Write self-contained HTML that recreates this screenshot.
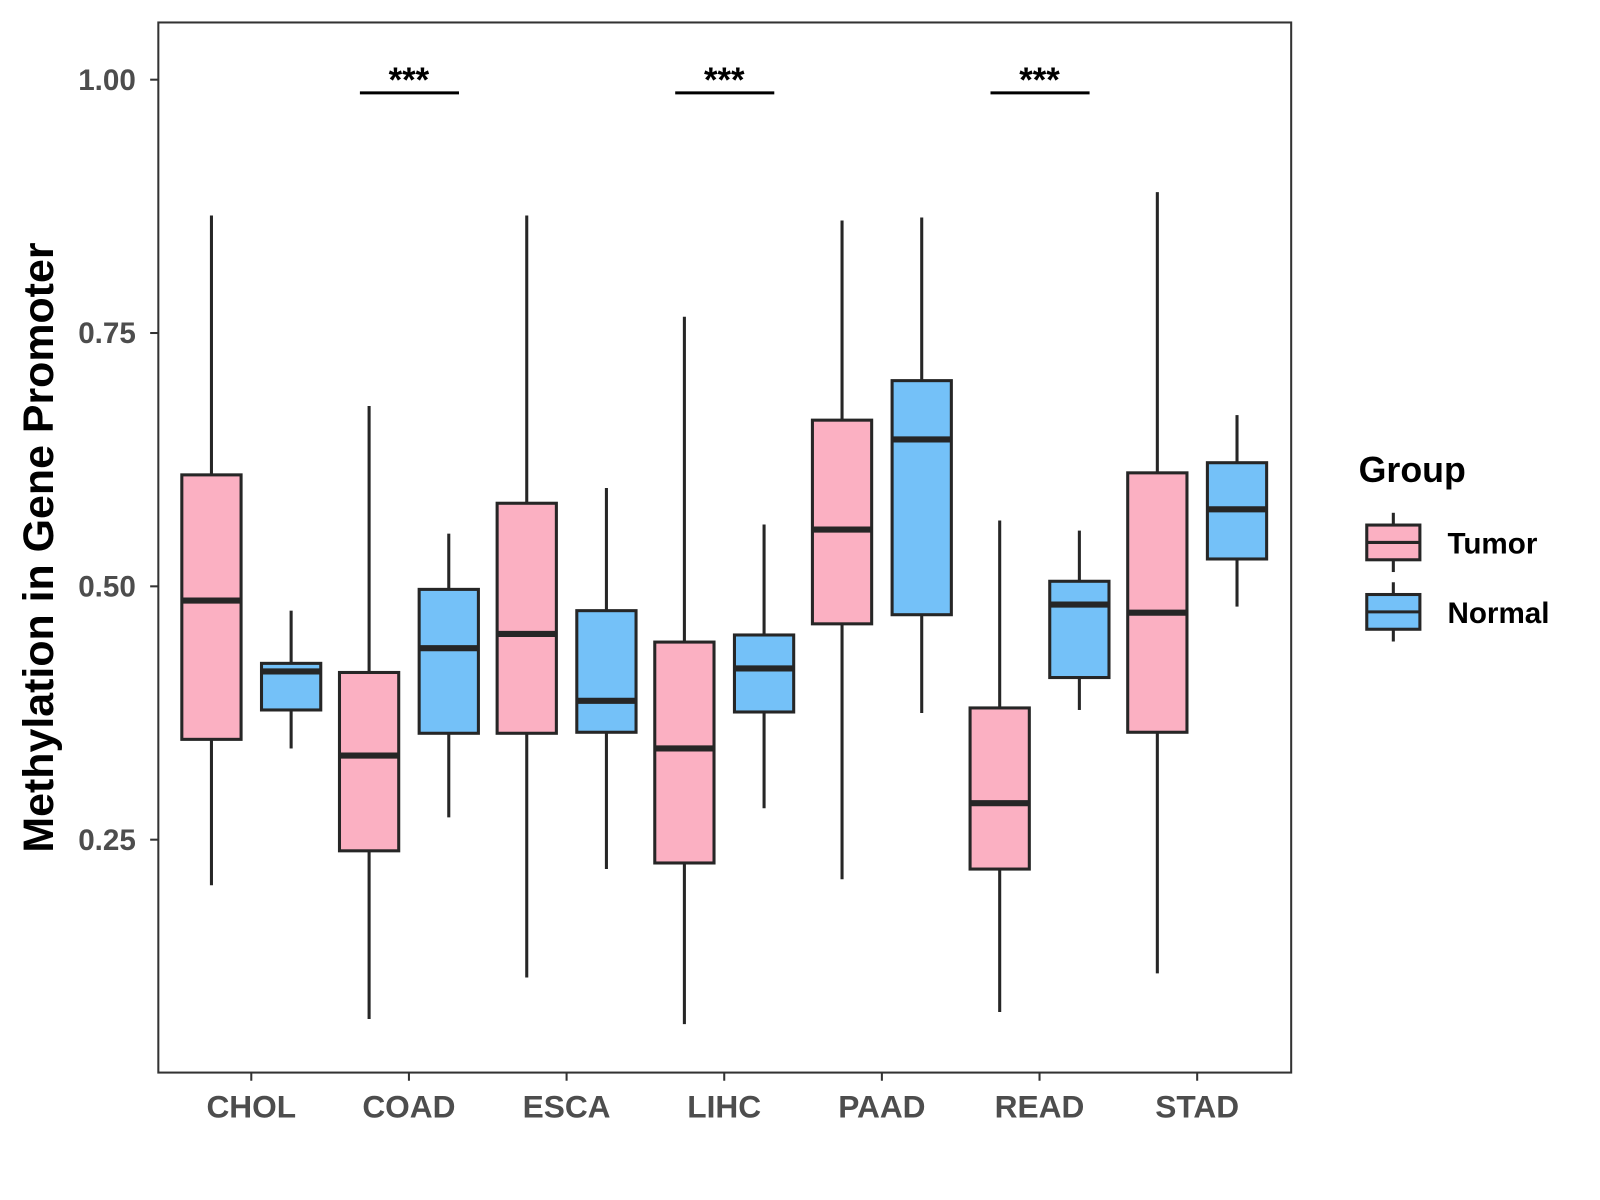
<!DOCTYPE html>
<html><head><meta charset="utf-8"><style>
html,body{margin:0;padding:0;background:#fff;}
svg{display:block;font-family:"Liberation Sans",Arial,sans-serif;}
</style></head><body>
<svg id="chart" width="1600" height="1200" viewBox="0 0 1600 1200">
<rect x="0" y="0" width="1600" height="1200" fill="#fff"/>
<g id="root" transform="scale(1.0215)">
<rect x="155" y="22" width="1109" height="1028" fill="none" stroke="#333" stroke-width="2"/>
<g id="marks"></g>
<text transform="translate(52,536) rotate(-90)" text-anchor="middle" font-size="42" font-weight="bold" fill="#000">Methylation in Gene Promoter</text>
<text x="1330" y="472" font-size="35" font-weight="bold" fill="#000">Group</text>
</g>
</svg>
<script>
const categories = ["CHOL","COAD","ESCA","LIHC","PAAD","READ","STAD"];
const groups = ["Tumor","Normal"];
const tumorStats = [
 [0.205,0.349,0.486,0.610,0.866],
 [0.073,0.239,0.333,0.415,0.678],
 [0.114,0.355,0.453,0.582,0.866],
 [0.068,0.227,0.340,0.445,0.766],
 [0.211,0.463,0.556,0.664,0.861],
 [0.080,0.221,0.286,0.380,0.565],
 [0.118,0.356,0.474,0.612,0.889]
];
const normalStats = [
 [0.340,0.378,0.416,0.424,0.476],
 [0.272,0.355,0.439,0.497,0.552],
 [0.221,0.356,0.387,0.476,0.597],
 [0.281,0.376,0.419,0.452,0.561],
 [0.375,0.472,0.645,0.703,0.864],
 [0.378,0.410,0.482,0.505,0.555],
 [0.480,0.527,0.576,0.622,0.669]
];
const yTicks = [0.25,0.50,0.75,1.00];
const yTickLabels = ["0.25","0.50","0.75","1.00"];
const sigCategories = ["COAD","LIHC","READ"];
const sigLabels = ["***","***","***"];
const sigLevel = 0.987;

const NS="http://www.w3.org/2000/svg";
const root=document.getElementById('root');
const g=document.getElementById('marks');
const x0=246, step=154.33;
function xPos(i){return x0+i*step;}
function yPos(v){return 78+(1-v)*992;}
function mk(tag,attrs,parent){const e=document.createElementNS(NS,tag);for(const k in attrs)e.setAttribute(k,attrs[k]);(parent||g).appendChild(e);return e;}
const colors={Tumor:"#FBB0C2",Normal:"#74C1F8"};
const bw=58, off=39;

yTicks.forEach((t,i)=>{
  const y=yPos(t);
  const tk=mk('line',{x1:147,x2:155,y1:y,y2:y,stroke:'#333','stroke-width':2});
  
  
  const lb=mk('text',{x:133,y:y+10,'text-anchor':'end','font-size':29,'font-weight':'bold',fill:'#4d4d4d'});
  lb.textContent=yTickLabels[i];
  
  
});
categories.forEach((c,i)=>{
  const x=xPos(i);
  const tk=mk('line',{x1:x,x2:x,y1:1050,y2:1058,stroke:'#333','stroke-width':2});
  
  
  const lb=mk('text',{x:x,y:1094,'text-anchor':'middle','font-size':31,'font-weight':'bold',fill:'#4d4d4d'});
  lb.textContent=c;
  
  
});
function drawBox(cx,s,fill,name){
  const grp=mk('g',{});
  
  
  mk('line',{x1:cx,x2:cx,y1:yPos(s[4]),y2:yPos(s[3]),stroke:'#262626','stroke-width':3},grp);
  mk('line',{x1:cx,x2:cx,y1:yPos(s[1]),y2:yPos(s[0]),stroke:'#262626','stroke-width':3},grp);
  mk('rect',{x:cx-bw/2,y:yPos(s[3]),width:bw,height:yPos(s[1])-yPos(s[3]),fill:fill,stroke:'#262626','stroke-width':3},grp);
  mk('line',{x1:cx-bw/2,x2:cx+bw/2,y1:yPos(s[2]),y2:yPos(s[2]),stroke:'#262626','stroke-width':6},grp);
}
categories.forEach((c,i)=>{
  drawBox(xPos(i)-off,tumorStats[i],colors.Tumor,'box-tumor-'+c.toLowerCase());
  drawBox(xPos(i)+off,normalStats[i],colors.Normal,'box-normal-'+c.toLowerCase());
});
sigCategories.forEach((c,j)=>{
  const i=categories.indexOf(c);
  const y=yPos(sigLevel);
  const ln=mk('line',{x1:xPos(i)-48,x2:xPos(i)+49,y1:y,y2:y,stroke:'#000','stroke-width':3});
  
  
  const t=mk('text',{x:xPos(i),y:y-1,'text-anchor':'middle','font-size':34,'font-weight':'bold',fill:'#000'});
  t.textContent=sigLabels[j];
  
  
});
groups.forEach((gname,k)=>{
  const top=514+k*68;
  const lg=mk('g',{},root);
  
  
  mk('line',{x1:1364,x2:1364,y1:top-12,y2:top+46,stroke:'#262626','stroke-width':3},lg);
  mk('rect',{x:1338,y:top,width:52,height:34,fill:colors[gname],stroke:'#262626','stroke-width':3},lg);
  mk('line',{x1:1338,x2:1390,y1:top+17,y2:top+17,stroke:'#262626','stroke-width':3},lg);
  const t=mk('text',{x:1417,y:top+28,'font-size':29,'font-weight':'bold',fill:'#000'},lg);
  t.textContent=gname;
});
</script>
</body></html>
